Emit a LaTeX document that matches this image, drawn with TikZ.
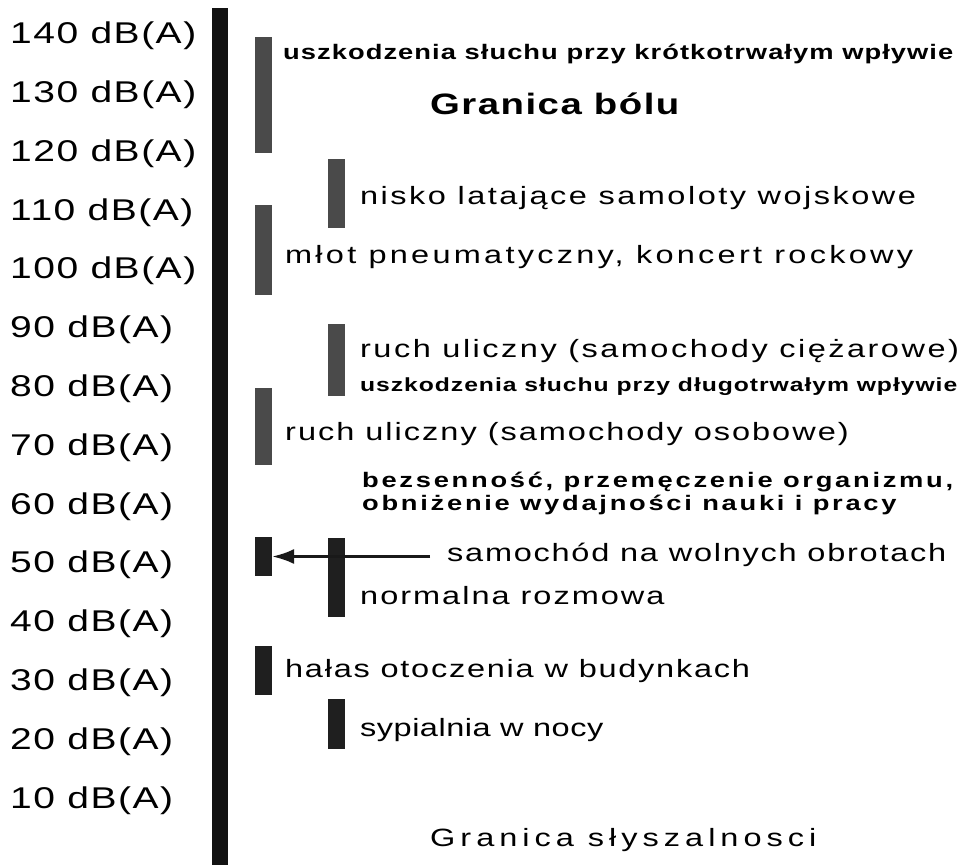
\documentclass[tikz,border=0pt]{standalone}
\usepackage{fontspec}
\setmainfont{Liberation Sans}[FakeStretch=1.3,LetterSpace=5]
\usepackage{xcolor}
\usepackage{tikz}
\usetikzlibrary{positioning,arrows.meta}

\begin{document}
\begin{tikzpicture}[x=1pt,y=-1pt]
        % Style dla pasków i napisów
        \tikzstyle{graybar} = [
            fill=black!71,
            inner sep=0pt,
            outer sep=0pt,
            minimum width=17pt
        ]
        \tikzstyle{blackbar} = [graybar, fill=black!88]
        \tikzstyle{dblabel} = [anchor=west, inner sep=0pt, font=\fontsize{30}{36}\selectfont]
        \tikzstyle{note} = [anchor=west, inner sep=0pt,
            font=\fontsize{25}{30}\selectfont\addfontfeature{LetterSpace=8}]
        \tikzstyle{smallnote} = [anchor=west, inner sep=0pt, align=left,
            font=\bfseries\fontsize{19}{22}\selectfont]

        \useasboundingbox (0,0) rectangle (966,865);

        % Oś pionowa
        \node[fill=black!93, inner sep=0pt, minimum width=16pt, minimum height=857pt] (axis) at (220,436.5) {};

        % Skala dB(A)
        \foreach \v [count=\i from 0] in {140,130,...,10}
            \node[dblabel] (lab\v) at (10,36+\i*58.8) {\v~dB(A)};

        % Paski
        \node[graybar, minimum height=116pt] (barA) at (263.5,95) {};
        \node[graybar, minimum height=69pt] (barB) at (336,193.5) {};
        \node[graybar, minimum height=90pt] (barC) at (263.5,250) {};
        \node[graybar, minimum height=72pt] (barD) at (336,360) {};
        \node[graybar, minimum height=77pt] (barE) at (263.5,426.5) {};
        \node[blackbar, minimum height=39pt] (barF) at (263.5,556.5) {};
        \node[blackbar, minimum height=79pt] (barG) at (336,577.5) {};
        \node[blackbar, minimum height=49pt] (barH) at (263.5,670.5) {};
        \node[blackbar, minimum height=50pt] (barI) at (336,724) {};

        % Napisy
        \node[smallnote, font=\bfseries\fontsize{21}{24}\selectfont] (krotko) at (283,54) {uszkodzenia słuchu przy krótkotrwałym wpływie};
        \node[note, font=\bfseries\fontsize{29.5}{34}\selectfont] (bol) at (430,104) {Granica bólu};
        \node[note, font=\fontsize{25}{30}\selectfont\addfontfeature{LetterSpace=10}] (samoloty) at (360,198) {nisko latające samoloty wojskowe};
        \node[note, font=\fontsize{25}{30}\selectfont\addfontfeature{LetterSpace=13}] (mlot) at (285,257) {młot pneumatyczny, koncert rockowy};
        \node[note, font=\fontsize{25}{30}\selectfont\addfontfeature{LetterSpace=10}] (ciezarowe) at (360,351) {ruch uliczny (samochody ciężarowe)};
        \node[smallnote] (dlugo) at (360,387) {uszkodzenia słuchu przy długotrwałym wpływie};
        \node[note] (osobowe) at (285,434) {ruch uliczny (samochody osobowe)};
        \node[smallnote, font=\bfseries\fontsize{21}{23}\selectfont\addfontfeature{LetterSpace=13}] (bezsennosc) at (362,493) {bezsenność, przemęczenie organizmu,\\obniżenie wydajności nauki i pracy};
        \node[note, font=\fontsize{25}{30}\selectfont\addfontfeature{LetterSpace=7}] (obroty) at (447,555) {samochód na wolnych obrotach};
        \node[note] (rozmowa) at (360,596) {normalna rozmowa};
        \node[note, font=\fontsize{25}{30}\selectfont\addfontfeature{LetterSpace=7}] (budynki) at (285,671) {hałas otoczenia w budynkach};
        \node[note, font=\fontsize{25}{30}\selectfont\addfontfeature{LetterSpace=2}] (sypialnia) at (360,730) {sypialnia w nocy};
        \node[note, font=\fontsize{25}{30}\selectfont\addfontfeature{LetterSpace=20}] (slyszalnosc) at (430,840) {Granica słyszalnosci};

        % Strzałka do paska
        \coordinate (arrstart) at (430,556.5);
        \draw[black!90, line width=3pt, -{Latex[length=22pt, width=15pt]}] (arrstart) -- (barF.east);

    \end{tikzpicture}
\end{document}
